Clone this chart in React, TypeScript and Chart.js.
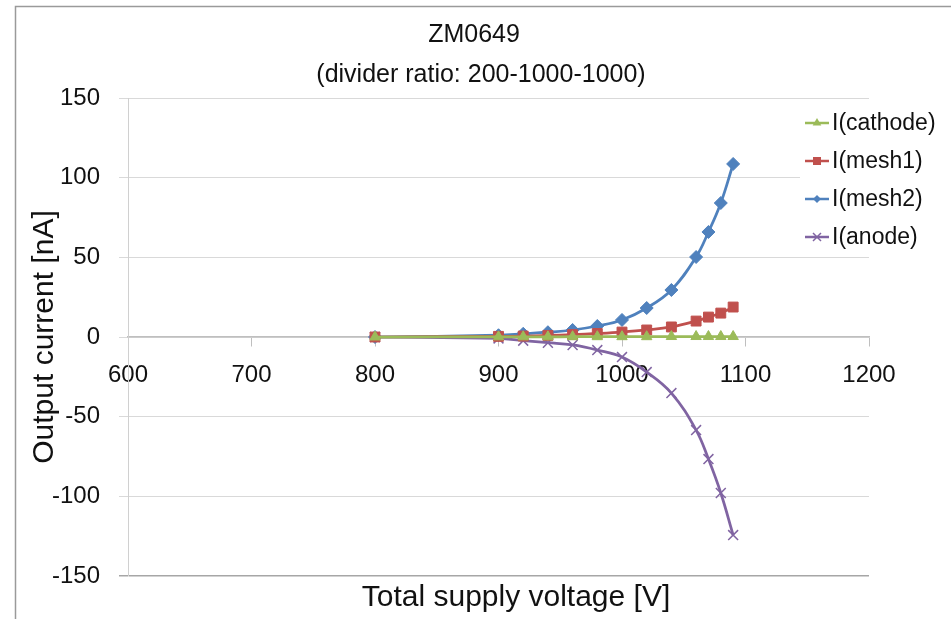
import React, { useEffect, useRef } from "react";
import { Chart, registerables } from "chart.js";

Chart.register(...registerables);

// ---- data ----
const voltages = [800, 900, 920, 940, 960, 980, 1000, 1020, 1040, 1060, 1070, 1080, 1090];
const cathode = [0, 0.1, 0.1, 0.1, 0.2, 0.2, 0.2, 0.2, 0.3, 0.3, 0.3, 0.3, 0.3];
const mesh1 = [0, 0.4, 0.6, 1.0, 1.5, 2.2, 3.1, 4.4, 6.3, 10.0, 12.5, 15.0, 18.8];
const mesh2 = [0, 1.1, 2.0, 3.0, 4.4, 6.9, 10.7, 18.2, 29.5, 50.2, 65.9, 84.1, 108.6];
const anode = [0, -0.9, -2.3, -3.6, -5.0, -8.2, -12.6, -22.0, -35.2, -58.4, -76.6, -97.9, -124.3];
const seriesLabels = ["I(cathode)", "I(mesh1)", "I(mesh2)", "I(anode)"];
const xTicks = [600, 700, 800, 900, 1000, 1100, 1200];
const yTicks = [-150, -100, -50, 0, 50, 100, 150];
const titleText = "ZM0649";
const subtitleText = "(divider ratio: 200-1000-1000)";
const xTitleText = "Total supply voltage [V]";
const yTitleText = "Output current [nA]";

const FONT = "'Liberation Sans', Arial, sans-serif";
const colors = ["#9BBB59", "#C0504D", "#4F81BD", "#8064A2"];
const pointStyles = ["triangle", "rect", "rectRot", "crossRot"];

function drawMarker(ctx: CanvasRenderingContext2D, style: string, x: number, y: number, r: number, color: string) {
  ctx.save();
  ctx.fillStyle = color;
  ctx.strokeStyle = color;
  ctx.lineWidth = 1.5;
  ctx.beginPath();
  if (style === "triangle") {
    for (let i = 0; i < 3; i++) {
      const a = (i * 2 * Math.PI) / 3;
      const px = x + Math.sin(a) * r;
      const py = y - Math.cos(a) * r;
      if (i === 0) ctx.moveTo(px, py);
      else ctx.lineTo(px, py);
    }
    ctx.closePath();
    ctx.fill();
  } else if (style === "rect") {
    ctx.rect(x - r, y - r, 2 * r, 2 * r);
    ctx.fill();
  } else if (style === "rectRot") {
    ctx.moveTo(x, y - r);
    ctx.lineTo(x + r, y);
    ctx.lineTo(x, y + r);
    ctx.lineTo(x - r, y);
    ctx.closePath();
    ctx.fill();
  } else {
    ctx.moveTo(x - r, y - r);
    ctx.lineTo(x + r, y + r);
    ctx.moveTo(x + r, y - r);
    ctx.lineTo(x - r, y + r);
    ctx.stroke();
  }
  ctx.restore();
}

const decorPlugin = {
  id: "decor",
  beforeDraw(chart: any) {
    const ctx = chart.ctx as CanvasRenderingContext2D;
    ctx.save();
    ctx.fillStyle = "#ffffff";
    ctx.fillRect(0, 0, chart.width, chart.height);
    ctx.strokeStyle = "#9a9a9a";
    ctx.lineWidth = 1.5;
    ctx.beginPath();
    ctx.moveTo(15.5, chart.height);
    ctx.lineTo(15.5, 6.5);
    ctx.lineTo(chart.width, 6.5);
    ctx.stroke();
    ctx.restore();
  },
  afterDraw(chart: any) {
    const ctx = chart.ctx as CanvasRenderingContext2D;
    ctx.save();
    ctx.fillStyle = "#111111";
    ctx.textAlign = "center";
    ctx.textBaseline = "middle";
    ctx.font = `25px ${FONT}`;
    ctx.fillText(titleText, 474, 35);
    ctx.fillText(subtitleText, 481, 75);
    ctx.font = `30px ${FONT}`;
    ctx.fillText(xTitleText, 516, 598);

    // legend
    ctx.fillStyle = "#ffffff";
    ctx.fillRect(800, 103, 151, 151);
    const ys = [123, 161, 199, 237];
    const sizes = [5, 4, 4, 4];
    chart.data.datasets.forEach((ds: any, i: number) => {
      const y = ys[i];
      ctx.strokeStyle = colors[i];
      ctx.lineWidth = 2.5;
      ctx.beginPath();
      ctx.moveTo(805, y);
      ctx.lineTo(829, y);
      ctx.stroke();
      drawMarker(ctx, pointStyles[i], 817, y, sizes[i], colors[i]);
      ctx.fillStyle = "#111111";
      ctx.textAlign = "left";
      ctx.font = `23px ${FONT}`;
      ctx.fillText(ds.label, 832, y + 1);
    });
    ctx.restore();
  },
};

export default function App() {
  const ref = useRef<HTMLCanvasElement | null>(null);

  useEffect(() => {
    if (!ref.current) return;
    const series = [cathode, mesh1, mesh2, anode];
    const radii = [6, 7, 6.5, 7];
    const chart = new Chart(ref.current, {
      type: "line",
      data: {
        datasets: series.map((arr, i) => ({
          label: seriesLabels[i],
          data: voltages.map((v, j) => ({ x: v, y: arr[j] })),
          borderColor: colors[i],
          backgroundColor: colors[i],
          borderWidth: 2.75,
          pointStyle: pointStyles[i] as any,
          pointRadius: radii[i],
          pointBorderWidth: i === 3 ? 1.5 : 1,
          pointBorderColor: colors[i],
          pointBackgroundColor: colors[i],
          tension: 0.4,
          fill: false,
        })),
      },
      options: {
        responsive: false,
        animation: false,
        layout: { padding: { top: 98, right: 82, bottom: 43, left: 0 } },
        plugins: {
          legend: { display: false },
          title: { display: false },
          tooltip: { enabled: false },
        },
        scales: {
          x: {
            type: "linear",
            min: 600,
            max: 1200,
            position: { y: 0 } as any,
            afterBuildTicks: (s: any) => {
              s.ticks = xTicks.map((v) => ({ value: v }));
            },
            ticks: {
              font: { family: FONT, size: 24 },
              color: "#111111",
              padding: 15,
              maxRotation: 0,
              callback: (v: any) => String(v),
            },
            grid: {
              drawOnChartArea: false,
              drawTicks: true,
              tickLength: 9,
              color: "#bfbfbf",
            },
            border: { display: true, color: "#bfbfbf", width: 1.5 },
          },
          y: {
            type: "linear",
            min: -150,
            max: 150,
            position: "left",
            afterFit: (s: any) => {
              s.width = 128;
            },
            afterBuildTicks: (s: any) => {
              s.ticks = yTicks.map((v) => ({ value: v }));
            },
            ticks: {
              font: { family: FONT, size: 24 },
              color: "#111111",
              padding: 19,
              callback: (v: any) => String(v),
            },
            grid: {
              color: (c: any) => (c.tick && c.tick.value === -150 ? "#a6a6a6" : "#d9d9d9"),
              lineWidth: (c: any) => (c.tick && c.tick.value === -150 ? 1.5 : 1),
              tickLength: 9,
              drawTicks: true,
            },
            border: { display: true, color: "#d0d0d0", width: 1 },
            title: {
              display: true,
              text: yTitleText,
              font: { family: FONT, size: 30 },
              color: "#111111",
              padding: { top: 27, bottom: 0 },
            },
          },
        },
      },
      plugins: [decorPlugin],
    });
    return () => chart.destroy();
  }, []);

  return (
    <div style={{ position: "absolute", left: 0, top: 0, width: 951, height: 619, background: "#fff" }}>
      <canvas ref={ref} width={951} height={619} />
    </div>
  );
}
